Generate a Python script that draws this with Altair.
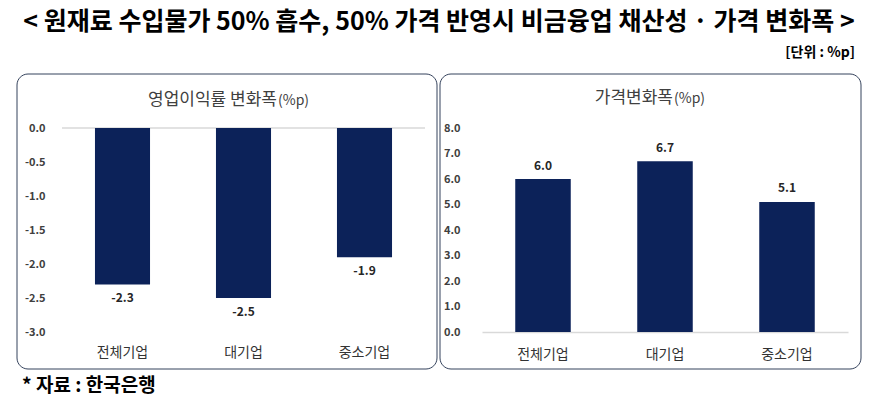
import altair as alt
import pandas as pd

# ---- data ----
categories = ["전체기업", "대기업", "중소기업"]
margin_change = [-2.3, -2.5, -1.9]
price_change = [6.0, 6.7, 5.1]
left_ticks = [0.0, -0.5, -1.0, -1.5, -2.0, -2.5, -3.0]
right_ticks = [0.0, 1.0, 2.0, 3.0, 4.0, 5.0, 6.0, 7.0, 8.0]

main_title = "< 원재료 수입물가 50% 흡수, 50% 가격 반영시 비금융업 채산성 · 가격 변화폭 >"
unit_text = "[단위 : %p]"
source_text = "* 자료 : 한국은행"
left_title = "영업이익률 변화폭"
right_title = "가격변화폭"
title_suffix = "(%p)"

FONT = "Noto Sans CJK KR"
NAVY = "#0c2259"
BOX = "#34425c"
GRAYLINE = "#d9d9d9"

df_left = pd.DataFrame({"cat": categories, "val": margin_change,
                        "label": [f"{v:.1f}" for v in margin_change]})
df_right = pd.DataFrame({"cat": categories, "val": price_change,
                         "label": [f"{v:.1f}" for v in price_change]})
one = pd.DataFrame({"k": [0]})

LW, LH = 363, 204
RW, RH = 366, 204

label_expr = "replace(format(datum.value, '.1f'), '\u2212', '-')"


def xaxis(domain):
    kw = dict(title=None, labelAngle=0, domain=domain, ticks=False,
              labelPadding=13 if not domain else 15, labelFontSize=14,
              labelColor="#333333", labelFont=FONT)
    if domain:
        kw.update(domainColor=GRAYLINE, domainWidth=1.5)
    return alt.Axis(**kw)


def box(x1, x2, y1, y2):
    return alt.Chart(one).mark_rect(filled=False, stroke=BOX, strokeWidth=1,
                                    cornerRadius=11).encode(
        x=alt.value(x1), x2=alt.value(x2), y=alt.value(y1), y2=alt.value(y2))


def txt(text, x, y, align="left", size=16, weight="normal", color="#404040", opacity=1):
    return alt.Chart(one).mark_text(align=align, baseline="middle", fontSize=size,
                                    fontWeight=weight, font=FONT, color=color,
                                    opacity=opacity).encode(
        x=alt.value(x), y=alt.value(y), text=alt.value(text))


def yaxis(vals, pad, expr=None):
    kw = dict(title=None, values=vals, domain=False, ticks=False, grid=False,
              labelPadding=pad, labelFontSize=11, labelFontWeight="bold",
              labelColor="#404040", labelFont=FONT, labelOverlap=False, labelFlush=False)
    if expr:
        kw["labelExpr"] = expr
    else:
        kw["format"] = ".1f"
    return alt.Axis(**kw)


def panel(df, domain, ticks, ypad, expr, xdomain, dy):
    xs = alt.Scale(paddingInner=0.545, paddingOuter=0.2725)
    ys = alt.Scale(domain=domain, nice=False)
    bars = alt.Chart(df).mark_bar(color=NAVY).encode(
        x=alt.X("cat:N", sort=categories, scale=xs, axis=xaxis(xdomain)),
        y=alt.Y("val:Q", scale=ys, axis=yaxis(ticks, ypad, expr)))
    labels = alt.Chart(df).mark_text(dy=dy, fontSize=12, fontWeight="bold",
                                     font=FONT, color="#262626").encode(
        x=alt.X("cat:N", sort=categories, scale=xs, axis=xaxis(xdomain)),
        y=alt.Y("val:Q", scale=ys, axis=yaxis(ticks, ypad, expr)),
        text="label:N")
    return bars, labels


# ---- left panel ----
left_bars, left_labels = panel(df_left, [-3, 0], left_ticks, 17, label_expr, False, 14)
left_zero = alt.Chart(one).mark_rule(color=GRAYLINE, strokeWidth=1.5).encode(
    x=alt.value(0), x2=alt.value(LW), y=alt.value(0))

left = alt.layer(
    box(-45, 375, -54, 241),
    left_zero,
    left_bars,
    left_labels,
    txt(left_title, 215, -28, align="right", size=17),
    txt(title_suffix, 216, -27, align="left", size=14),
    txt(source_text, -40, 258, align="left", size=19, weight="bold", color="#000000"),
    txt(unit_text, 100, -75, align="left", size=14, weight="bold", opacity=0),
).properties(width=LW, height=LH)

# ---- right panel ----
right_bars, right_labels = panel(df_right, [0, 8], right_ticks, 22, None, True, -13.5)

right = alt.layer(
    box(-42, 379, -54, 241),
    right_bars,
    right_labels,
    txt(right_title, 191, -30, align="right", size=17),
    txt(title_suffix, 192, -29, align="left", size=14),
    txt(unit_text, 373, -75, align="right", size=14, weight="bold", color="#000000"),
).properties(width=RW, height=RH)

chart = alt.hconcat(left, right, spacing=1).properties(
    title=alt.TitleParams(main_title, anchor="middle", fontSize=25, font=FONT,
                          fontWeight="bold", color="#000000", offset=11),
    padding={"left": 16, "top": 10, "right": 4, "bottom": 4},
    background="white",
).configure_view(strokeWidth=0)

chart.save("out.html", embed_options={"renderer": "svg", "actions": False})
